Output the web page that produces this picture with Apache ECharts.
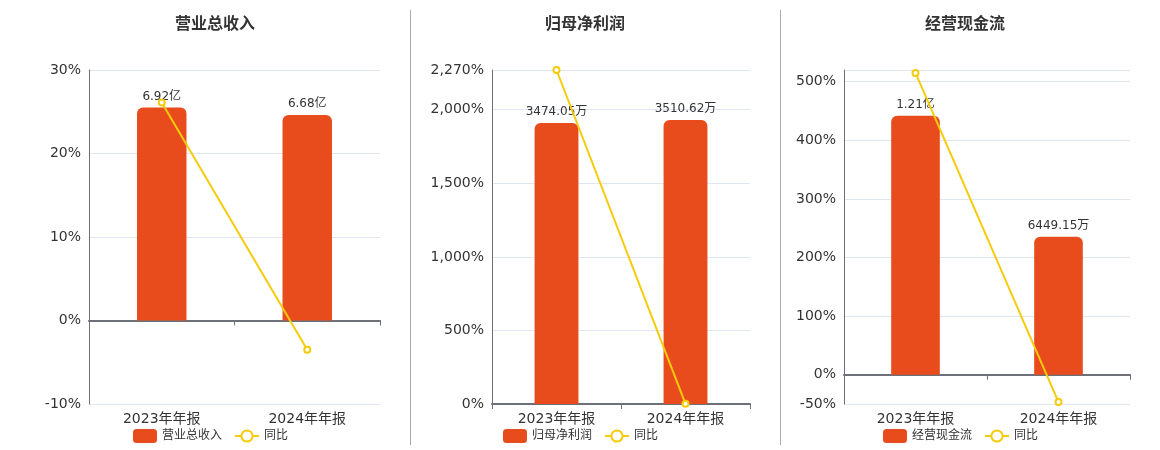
<!DOCTYPE html>
<html style="height: 100%">
<head>
    <meta charset="utf-8">
    <title>财务指标</title>
</head>
<body style="height: 100%; margin: 0">
<div id="container" style="width: 1160px; height: 450px"></div>
<script type="text/javascript" src="https://cdn.jsdelivr.net/npm/echarts@6/dist/echarts.min.js"></script>
<script type="text/javascript">
    // 数据（金额单位：万）
    var categories = ['2023年年报', '2024年年报'];
    var titles = ['营业总收入', '归母净利润', '经营现金流'];
    var revenue = [69200, 66800];
    var revenueYoy = [26.1, -3.5];
    var profit = [3474.05, 3510.62];
    var profitYoy = [2270, 1.05];
    var cash = [12100, 6449.15];
    var cashYoy = [515, -46.7];
    // 百分比轴刻度
    var pctTicks1 = [-10, 0, 10, 20, 30];
    var pctTicks2 = [0, 500, 1000, 1500, 2000, 2270];
    var pctTicks3 = [-50, 0, 100, 200, 300, 400, 500];
    var pctMax3 = 520;

    var barColor = '#e84c1d';
    var lineColor = '#f5cb0c';
    var font = 'DejaVu Sans, Noto Sans CJK SC, sans-serif';

    var grids = [
        {left: 89, width: 291, top: 70, height: 334},
        {left: 492, width: 258, top: 70, height: 334},
        {left: 844, width: 286, top: 70, height: 334}
    ];
    var panels = [
        {bars: revenue, yoy: revenueYoy, ticks: pctTicks1, max: 30},
        {bars: profit, yoy: profitYoy, ticks: pctTicks2, max: 2270},
        {bars: cash, yoy: cashYoy, ticks: pctTicks3, max: pctMax3}
    ];

    function fmtMoney(v) {
        if (Math.abs(v) >= 10000) return (v / 10000).toFixed(2) + '亿';
        return v.toFixed(2) + '万';
    }

    var dom = document.getElementById("container");
    var myChart = echarts.init(dom);
    var option = {
        animation: false,
        textStyle: {fontFamily: font},
        title: [], legend: [], grid: grids,
        xAxis: [], yAxis: [], series: [],
        graphic: [
            {type: 'line', shape: {x1: 410.5, y1: 10, x2: 410.5, y2: 445}, style: {stroke: '#aaa', lineWidth: 1}},
            {type: 'line', shape: {x1: 780.5, y1: 10, x2: 780.5, y2: 445}, style: {stroke: '#aaa', lineWidth: 1}}
        ]
    };

    var titleX = [210, 580, 960];
    var legendX = [128, 498, 878];

    panels.forEach(function (p, i) {
        var pMin = p.ticks[0];
        var barMax = Math.max.apply(null, p.bars) / 0.85;
        var barMin = barMax * pMin / p.max;

        option.title.push({
            text: titles[i], left: titleX[i], top: 12, textAlign: 'center',
            textStyle: {fontSize: 16, fontWeight: 'bold', color: '#333', fontFamily: font}
        });
        option.legend.push({
            data: [titles[i], '同比'], left: legendX[i], top: 424,
            itemWidth: 24, itemHeight: 14, itemGap: 12,
            textStyle: {fontSize: 12, color: '#333', fontFamily: font}
        });
        // 底部类目标签
        option.xAxis.push({
            type: 'category', gridIndex: i, data: categories, position: 'bottom',
            axisLine: {show: false, onZero: false}, axisTick: {show: false},
            axisLabel: {fontSize: 14, color: '#333', margin: 8}
        });
        // 零线
        option.xAxis.push({
            type: 'category', gridIndex: i, data: categories, position: 'top',
            axisLine: {show: true, onZero: true, lineStyle: {color: '#6e7079', width: 2}},
            axisTick: {show: true, inside: true, length: 5, lineStyle: {color: '#6e7079'}},
            axisLabel: {show: false}
        });
        var tickVals = p.ticks.slice();
        if (tickVals[tickVals.length - 1] < p.max) tickVals.push(p.max);
        option.yAxis.push({
            type: 'value', gridIndex: i, min: pMin, max: p.max,
            axisLine: {show: true, lineStyle: {color: '#6e7079'}},
            axisTick: {show: false, customValues: tickVals},
            axisLabel: {
                customValues: p.ticks, fontSize: 14, color: '#333',
                formatter: function (v) { return v.toLocaleString('en-US') + '%'; }
            },
            splitLine: {show: true, lineStyle: {color: '#e0e6f1'}}
        });
        option.yAxis.push({
            type: 'value', gridIndex: i, min: barMin, max: barMax, show: false,
            splitLine: {show: false}
        });
        option.series.push({
            name: titles[i], type: 'bar', xAxisIndex: i * 2, yAxisIndex: i * 2 + 1,
            data: p.bars, barWidth: '34%',
            itemStyle: {color: barColor, borderRadius: [6, 6, 0, 0]},
            label: {
                show: true, position: 'top', color: '#333', fontSize: 12,
                formatter: function (d) { return fmtMoney(d.value); }
            }
        });
        option.series.push({
            name: '同比', type: 'line', xAxisIndex: i * 2, yAxisIndex: i * 2,
            data: p.yoy, symbol: 'emptyCircle', symbolSize: 6,
            lineStyle: {color: lineColor, width: 2},
            itemStyle: {color: lineColor}
        });
    });

    if (option && typeof option === "object") {
        myChart.setOption(option, true);
    }
</script>
</body>
</html>
